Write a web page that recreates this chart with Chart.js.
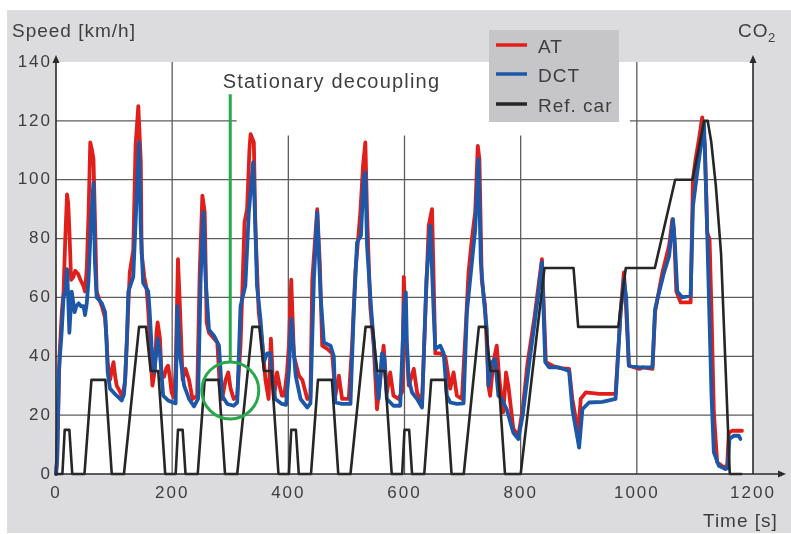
<!DOCTYPE html>
<html>
<head>
<meta charset="utf-8">
<script src="https://cdn.jsdelivr.net/npm/chart.js@4.4.1/dist/chart.umd.min.js"></script>
<style>
  html, body { margin: 0; padding: 0; background: #fff; }
  canvas { display: block; }
</style>
</head>
<body>
<canvas id="chart" width="791" height="534"></canvas>
<script>
// tick labels
const xTicks = [0, 200, 400, 600, 800, 1000, 1200];
const yTicks = [0, 20, 40, 60, 80, 100, 120, 140];

// AT (red)
const atTime = [0, 2, 6, 10, 13, 16, 19, 21, 23, 26, 30, 33, 38, 42, 47, 50, 53, 56, 59, 62, 64.5, 67, 70, 75, 79, 84.5, 87, 89, 93, 96, 99, 102, 104.5, 110, 113, 117, 119, 123, 127, 133, 137, 141.7, 144, 146, 147.4, 152, 156, 159, 161.7, 166, 170, 173, 175, 179, 181.6, 186, 190, 193, 196, 199,
  203, 206, 210, 213.7, 218, 223, 229, 235, 243, 247.4, 252, 256, 259.4, 263.4, 272, 277.7, 282, 286, 292, 296.6, 300.6, 306, 312, 317.7, 324.6, 329, 333, 335, 340.6, 343.4, 349, 355, 360.6, 366, 370, 375, 380.6, 385, 389, 393, 397.7,
  401, 405, 409.7, 418.3, 424, 432.6, 438, 441.2, 449.7, 454.3, 458.3, 467, 475.5, 481, 487, 492.6, 504, 509.7, 515.4, 524, 528.6, 532.6, 535.5, 541, 547, 552.6, 558.3, 564, 569.7, 575.4, 581, 589.7, 596,
  598.8, 603.4, 607.4, 616, 621.7, 630.2, 636, 641.7, 647.4, 650.2, 653, 661.7, 670.2, 678.8, 684.5, 690.2, 698.8, 704.5, 710.2, 716, 721.7, 726.2, 729, 733, 738.8, 744.5, 747.4, 753, 758.8, 763.4, 770.2, 774.8, 778.8, 787.4, 796,
  803.4, 812, 823.4, 832, 836.6, 840.6, 843.4, 855, 866.3, 883.4, 889, 895, 899.4, 903.4, 912, 935, 963.4, 972, 977.7, 980.6, 986.3, 1004.6, 1009.7, 1026.9,
  1031.4, 1035.5, 1044, 1049.7, 1055.5, 1061.2, 1064, 1068, 1075.5, 1092.6, 1096.6, 1101.2, 1107, 1112.6, 1117.2, 1121.2, 1125.2, 1128.6, 1132.6, 1138.3, 1149.7, 1155.5, 1158.3, 1164, 1181];
const atValue = [0, 5, 40, 55, 62, 80, 95, 92, 83, 66, 67, 69, 68, 66, 64, 62, 70, 88, 112.7, 110, 107, 87, 62, 59, 57, 53, 46, 38, 32, 35, 38, 33, 30, 28, 26.6, 29, 32, 50, 68.5, 76, 111.5, 125, 115, 106, 75, 67, 63, 55, 43.6, 30, 35, 48, 51.5, 46, 34.5, 33, 36, 36.8, 33, 27.7,
  26, 35.7, 73, 55, 32, 35.7, 32, 25.5, 26.6, 68.5, 94.6, 89, 51.5, 48, 46, 44.7, 30, 25.5, 32, 34.5, 29, 25.5, 26.6, 43.6, 85.5, 90, 110, 115.5, 112.7, 83, 55, 44.7, 32, 25.5, 46, 25.5, 34.5, 30, 26.6, 26.6, 34.5,
  43.6, 66, 40, 33.4, 32, 25.5, 26, 66, 90, 71, 43.6, 42.5, 41, 26.6, 33.4, 25.5, 25.5, 43.6, 68.5, 89, 104.8, 112.7, 89, 57, 43.6, 22, 32, 43.6, 27.7, 34.5, 26.6, 25.5, 28,
  67, 43.6, 30, 35.7, 27.7, 24.3, 55, 84.4, 90, 66, 41, 41, 40, 29, 34.5, 26.6, 25.5, 46, 68.5, 79.8, 89, 111.5, 107, 66, 57, 30, 26.6, 38, 43.6, 32, 21, 34.5, 30, 15.3, 13,
  22, 38, 52.7, 66, 73, 52.7, 38, 36.8, 36, 35.7, 25.5, 18.7, 14, 25.5, 27.7, 27.2, 27.2, 55, 68.5, 60, 36.8, 35.7, 36.2, 35.7,
  55, 59.5, 68.5, 73, 77.6, 86.6, 83, 62, 58.3, 58.3, 100.2, 107, 113.8, 121.2, 111.5, 82, 79.8, 55, 21, 4, 2.3, 2.8, 14, 14.7, 14.7];

// DCT (blue)
const dctTime = [0, 2, 5, 10, 13, 16, 19, 21, 23, 25, 27, 30, 32, 35, 39, 43, 47.4, 50, 53, 56, 60.5, 64.5, 67, 70, 75, 79, 84.5, 87, 89, 93, 100, 104.5, 113, 117, 119, 122, 124.5, 133, 139, 143, 146, 150, 158.8, 161, 164.5, 169, 172, 175, 179, 182, 184.5, 193, 206,
  209, 213.7, 220.6, 229, 237.7, 244.6, 249, 253.7, 257.7, 263.4, 272, 280.6, 286, 295, 306, 312, 317.7, 326, 332, 339.4, 343.4, 346, 352, 357.7, 363.4, 369, 372, 377.7, 389, 396,
  401, 405, 412.6, 421, 432.6, 438, 444, 449.7, 455.5, 461.2, 472.6, 478.3, 481, 492.6, 507, 512.6, 518.3, 525, 529.7, 532.6, 535.5, 542.3, 549.7, 555.5, 561.2, 565, 569.7, 581, 592.6, 599.4, 602.3,
  604, 607.4, 613, 621.7, 630.2, 637.7, 644.5, 650.2, 653, 661.7, 667.4, 673, 678.8, 690.2, 701.7, 707.4, 713, 721.7, 727.4, 731.4, 736, 741.7, 744.5, 750.2, 755.9, 761.7, 767.4, 776, 787.4, 796,
  803.4, 814.9, 823.4, 832, 836.6, 842.3, 849, 866.3, 883.4, 889, 895, 900.6, 906.3, 917.7, 940.6, 963.4, 972, 977.7, 981.7, 986.3, 1004.6, 1026.9,
  1031.4, 1038.3, 1046.9, 1055.5, 1062.3, 1065.7, 1069.7, 1078.3, 1092.6, 1096.6, 1104, 1112.6, 1115.5, 1119.5, 1124, 1128.6, 1132.6, 1141.2, 1152.6, 1156.6, 1159.4, 1166.9, 1175.4, 1178.3];
const dctValue = [0, 5, 35, 49, 60, 62, 69.6, 60, 48, 55, 62, 58, 55, 57, 58, 57, 57, 54, 58, 66, 87, 99, 72, 60, 59, 58, 55, 45, 34.5, 29, 27.5, 26.6, 25, 27, 32, 45, 62, 67, 94.6, 112.7, 83, 65, 62, 56, 43.6, 34.5, 40, 46, 41, 33, 26.6, 25, 24,
  57, 40, 30, 25.5, 23, 25.5, 66, 89, 66, 49, 47, 43.6, 26.6, 23.8, 23.2, 24.3, 57, 64, 89, 106, 83, 64, 52.7, 38, 41, 41, 32, 25.5, 23.8, 23.5,
  35, 52.7, 33.4, 25.5, 22.6, 24, 66, 89, 60.6, 44.7, 43.6, 40, 24.3, 23.8, 23.8, 55, 78.7, 81, 100.4, 102.5, 77.6, 57, 38, 25.5, 41, 40, 25.5, 23.2, 23.2, 57, 61.7,
  45, 32, 27.7, 25.5, 22.6, 66, 84.4, 55, 42.5, 43.6, 41, 26.6, 24.3, 23.8, 24, 55, 66, 83, 107, 72, 60.6, 49, 30, 38, 39, 26.6, 25.5, 22, 14, 11.9,
  19.8, 38, 50.4, 64, 72, 38, 36.2, 36.2, 35, 22, 15.3, 9, 22, 24.3, 24.5, 25.5, 55, 66, 60, 36.8, 36.2, 36.2,
  56, 61.7, 68.5, 74, 86.6, 77.6, 62, 60, 60.6, 91, 102.5, 115, 119.5, 94.6, 60.6, 26.6, 7.4, 2.8, 1.7, 2, 11.9, 13, 13, 11.9];

// Ref. car (black)
const refTime = [0, 11, 15, 23, 28, 49, 61, 85, 96, 117, 143, 155, 163, 176, 188,
  206, 210, 218, 223, 244, 256, 280, 291, 312, 338, 350, 358, 371, 383,
  401, 405, 413, 418, 439, 451, 475, 486, 507, 533, 545, 553, 566, 578,
  596, 600, 608, 613, 634, 646, 670, 681, 702, 728, 740, 748, 761, 773,
  800, 841, 891, 899, 968, 981, 1031, 1066, 1096, 1116, 1122, 1128, 1136, 1145, 1153, 1160, 1180];
const refValue = [0, 0, 15, 15, 0, 0, 32, 32, 0, 0, 50, 50, 35, 35, 0,
  0, 15, 15, 0, 0, 32, 32, 0, 0, 50, 50, 35, 35, 0,
  0, 15, 15, 0, 0, 32, 32, 0, 0, 50, 50, 35, 35, 0,
  0, 15, 15, 0, 0, 32, 32, 0, 0, 50, 50, 35, 35, 0,
  0, 70, 70, 50, 50, 70, 70, 100, 100, 120, 120, 113, 98, 75, 35, 0, 0];

const toPoints = (t, v) => t.map((x, i) => ({ x, y: v[i] }));

const textColor = '#3e3e3e';
const fontFamily = '"Liberation Sans", Arial, sans-serif';

function drawText(ctx, str, x, y, size, spacing, align) {
  ctx.save();
  ctx.font = size + 'px ' + fontFamily;
  ctx.letterSpacing = spacing + 'px';
  ctx.fillStyle = textColor;
  ctx.textAlign = align || 'left';
  ctx.textBaseline = 'alphabetic';
  ctx.fillText(str, x, y);
  ctx.restore();
}

function arrowHead(ctx, x, y, dir) {
  ctx.beginPath();
  if (dir === 'up') {
    ctx.moveTo(x, y); ctx.lineTo(x - 3.5, y + 8); ctx.lineTo(x + 3.5, y + 8);
  } else {
    ctx.moveTo(x, y); ctx.lineTo(x - 8, y - 3.5); ctx.lineTo(x - 8, y + 3.5);
  }
  ctx.closePath();
  ctx.fill();
}

const framePlugin = {
  id: 'frame',
  beforeUpdate(chart) { chart.ctx.letterSpacing = '2px'; },
  beforeDraw(chart) {
    const { ctx, chartArea: a, scales: { x, y } } = chart;
    ctx.letterSpacing = '2px';
    ctx.save();
    ctx.fillStyle = '#ffffff';
    ctx.fillRect(0, 0, chart.width, chart.height);
    ctx.fillStyle = '#dcdcde';
    ctx.fillRect(7, 10, chart.width - 7, chart.height - 11);
    ctx.fillStyle = '#ffffff';
    ctx.fillRect(a.left, a.top, a.right - a.left, a.bottom - a.top);

    // grid
    ctx.strokeStyle = '#5c5c5c';
    ctx.lineWidth = 1.3;
    const hLine = (v, t0, t1) => {
      ctx.beginPath();
      ctx.moveTo(x.getPixelForValue(t0), y.getPixelForValue(v));
      ctx.lineTo(x.getPixelForValue(t1), y.getPixelForValue(v));
      ctx.stroke();
    };
    const vLine = (t, v0, v1) => {
      ctx.beginPath();
      ctx.moveTo(x.getPixelForValue(t), y.getPixelForValue(v0));
      ctx.lineTo(x.getPixelForValue(t), y.getPixelForValue(v1));
      ctx.stroke();
    };
    [20, 40, 60, 80, 100].forEach(v => hLine(v, 0, 1200));
    hLine(120, 0, 311);
    hLine(120, 988, 1200);
    vLine(200, 0, 140);
    vLine(1000, 0, 140);
    [400, 600, 800].forEach(t => vLine(t, 0, 115));
    ctx.restore();
  },
  afterDatasetsDraw(chart) {
    const { ctx, chartArea: a, scales: { x, y } } = chart;
    ctx.save();
    ctx.letterSpacing = '0px';

    // axes with arrows
    ctx.strokeStyle = '#2b2b2b';
    ctx.fillStyle = '#2b2b2b';
    ctx.lineWidth = 1.6;
    const xRight = x.getPixelForValue(1200);
    ctx.beginPath();
    ctx.moveTo(a.left, a.bottom); ctx.lineTo(a.left, 60);
    ctx.moveTo(xRight, a.bottom); ctx.lineTo(xRight, 60);
    ctx.moveTo(a.left, a.bottom); ctx.lineTo(780, a.bottom);
    ctx.stroke();
    arrowHead(ctx, a.left, 55, 'up');
    arrowHead(ctx, xRight, 55, 'up');
    arrowHead(ctx, 786, a.bottom, 'right');

    // stationary decoupling marker
    const gx = x.getPixelForValue(300);
    const cy = y.getPixelForValue(28.4);
    const r = 28.5;
    ctx.strokeStyle = '#27a94b';
    ctx.lineWidth = 3;
    ctx.beginPath();
    ctx.moveTo(gx, y.getPixelForValue(129));
    ctx.lineTo(gx, cy - r);
    ctx.stroke();
    ctx.beginPath();
    ctx.arc(gx, cy, r, 0, Math.PI * 2);
    ctx.stroke();
    drawText(ctx, 'Stationary decoupling', x.getPixelForValue(287), 88, 20, 1.2);

    // legend
    ctx.fillStyle = '#c6c6c8';
    ctx.fillRect(489, 30, 130, 92);
    const legend = [
      { label: 'AT', color: '#e01f1a', y: 45 },
      { label: 'DCT', color: '#1d58a8', y: 74 },
      { label: 'Ref. car', color: '#262626', y: 104 }
    ];
    legend.forEach(item => {
      ctx.strokeStyle = item.color;
      ctx.lineWidth = 3.5;
      ctx.beginPath();
      ctx.moveTo(496, item.y); ctx.lineTo(527, item.y);
      ctx.stroke();
      drawText(ctx, item.label, 538, item.y + 8, 19, 1);
    });

    // axis titles
    drawText(ctx, 'Speed [km/h]', 12, 37, 19, 1);
    drawText(ctx, 'CO', 738, 37, 19, 1);
    drawText(ctx, '2', 768, 42, 13, 0);
    drawText(ctx, 'Time [s]', 703, 527, 19, 1);
    ctx.restore();
  }
};

const lineStyle = { pointRadius: 0, tension: 0, fill: false, clip: false, borderJoinStyle: 'round', borderCapStyle: 'round' };

new Chart(document.getElementById('chart'), {
  type: 'line',
  data: {
    datasets: [
      { label: 'AT', data: toPoints(atTime, atValue), borderColor: '#e01f1a', borderWidth: 3.8, order: 3, ...lineStyle },
      { label: 'DCT', data: toPoints(dctTime, dctValue), borderColor: '#1d58a8', borderWidth: 3.8, order: 2, ...lineStyle },
      { label: 'Ref. car', data: toPoints(refTime, refValue), borderColor: '#262626', borderWidth: 2.6, order: 1, ...lineStyle }
    ]
  },
  options: {
    responsive: false,
    animation: false,
    events: [],
    layout: { padding: { top: 62, right: 38, bottom: 0, left: 0 } },
    plugins: { legend: { display: false }, tooltip: { enabled: false } },
    scales: {
      x: {
        type: 'linear', min: 0, max: 1200,
        grid: { display: false, drawTicks: false },
        border: { display: false },
        afterBuildTicks: s => { s.ticks = xTicks.map(v => ({ value: v })); },
        afterFit: s => { s.height = 60; },
        ticks: { padding: 9, color: textColor, maxRotation: 0, font: { family: fontFamily, size: 17 }, callback: v => String(v) }
      },
      y: {
        min: 0, max: 140,
        grid: { display: false, drawTicks: false },
        border: { display: false },
        afterBuildTicks: s => { s.ticks = yTicks.map(v => ({ value: v })); },
        afterFit: s => { s.width = 56; },
        ticks: { padding: 4, color: textColor, font: { family: fontFamily, size: 17 }, callback: v => String(v) }
      }
    }
  },
  plugins: [framePlugin]
});
</script>
</body>
</html>
